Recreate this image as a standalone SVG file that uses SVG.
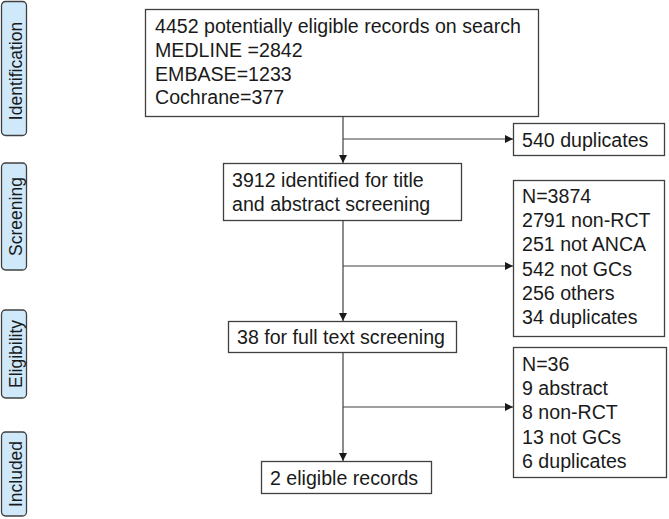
<svg xmlns="http://www.w3.org/2000/svg" width="669" height="519" viewBox="0 0 669 519">
<style>
.box{fill:#fff;stroke:#404040;stroke-width:1.3}
.side{fill:#cfe9fb;stroke:#404040;stroke-width:1.3}
.t{font-family:"Liberation Sans",Arial,sans-serif;font-size:19.6px;fill:#1a1a1a}
.st{font-family:"Liberation Sans",Arial,sans-serif;font-size:17.5px;fill:#1a1a1a;text-anchor:middle}
.c{stroke:#404040;stroke-width:1.2;fill:none}
</style>
<defs>
<marker id="a" viewBox="0 0 10 10" refX="10" refY="5" markerWidth="8" markerHeight="8" markerUnits="userSpaceOnUse" orient="auto"><path d="M0,0 L10,5 L0,10 z" fill="#1a1a1a"/></marker>
</defs>
<g id="stage-identification"><rect class="side" x="1.5" y="1.5" width="25" height="134" rx="4"/><text class="st" transform="translate(22,71) rotate(-90)">Identification</text></g>
<g id="stage-screening"><rect class="side" x="1.5" y="163" width="25" height="107" rx="4"/><text class="st" transform="translate(22,216.5) rotate(-90)">Screening</text></g>
<g id="stage-eligibility"><rect class="side" x="1.5" y="310" width="25" height="88" rx="4"/><text class="st" transform="translate(22,354) rotate(-90)">Eligibility</text></g>
<g id="stage-included"><rect class="side" x="1.5" y="432" width="25" height="84" rx="4"/><text class="st" transform="translate(22,474) rotate(-90)">Included</text></g>
<g id="connectors">
<line class="c" x1="343" y1="117" x2="343" y2="163" marker-end="url(#a)"/>
<line class="c" x1="343" y1="139" x2="513" y2="139" marker-end="url(#a)"/>
<line class="c" x1="343" y1="221" x2="343" y2="321" marker-end="url(#a)"/>
<line class="c" x1="343" y1="266" x2="513" y2="266" marker-end="url(#a)"/>
<line class="c" x1="343" y1="353" x2="343" y2="461" marker-end="url(#a)"/>
<line class="c" x1="343" y1="407" x2="513" y2="407" marker-end="url(#a)"/>
</g>
<g id="n-search"><rect class="box" x="145.5" y="9.5" width="393" height="107"/>
<text class="t" x="155" y="33">4452 potentially eligible records on search</text>
<text class="t" x="155" y="57">MEDLINE =2842</text>
<text class="t" x="155" y="81">EMBASE=1233</text>
<text class="t" x="155" y="104">Cochrane=377</text></g>
<g id="n-dup540"><rect class="box" x="513.5" y="123.5" width="151" height="32"/><text class="t" x="522" y="147">540 duplicates</text></g>
<g id="n-screen"><rect class="box" x="223.5" y="163.5" width="238" height="57"/>
<text class="t" x="232" y="187">3912 identified for title</text>
<text class="t" x="232" y="211">and abstract screening</text></g>
<g id="n-excl1"><rect class="box" x="513.5" y="180.5" width="151" height="156"/>
<text class="t" x="522" y="203">N=3874</text>
<text class="t" x="522" y="227">2791 non-RCT</text>
<text class="t" x="522" y="251">251 not ANCA</text>
<text class="t" x="522" y="276">542 not GCs</text>
<text class="t" x="522" y="300">256 others</text>
<text class="t" x="522" y="324">34 duplicates</text></g>
<g id="n-full"><rect class="box" x="228.5" y="321.5" width="228" height="31"/><text class="t" x="237" y="344">38 for full text screening</text></g>
<g id="n-excl2"><rect class="box" x="513.5" y="347.5" width="153" height="130"/>
<text class="t" x="522" y="371">N=36</text>
<text class="t" x="522" y="395">9 abstract</text>
<text class="t" x="522" y="419">8 non-RCT</text>
<text class="t" x="522" y="444">13 not GCs</text>
<text class="t" x="522" y="468">6 duplicates</text></g>
<g id="n-incl"><rect class="box" x="261.5" y="461.5" width="170" height="32"/><text class="t" x="270" y="485">2 eligible records</text></g>
</svg>
